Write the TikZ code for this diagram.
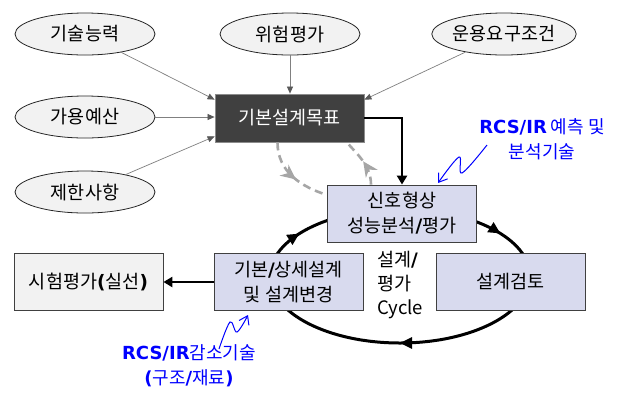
\documentclass[tikz,border=0pt]{standalone}
\usepackage{fontspec}
\setmainfont{Noto Sans CJK KR}
\newfontfamily\latb{DejaVu Sans}
\usetikzlibrary{arrows.meta,shapes.geometric,decorations.markings,calc}
\definecolor{ovalfill}{RGB}{242,242,242}
\definecolor{lav}{RGB}{216,218,238}
\definecolor{darkfill}{RGB}{64,64,64}
\definecolor{dashgray}{RGB}{166,166,166}
\definecolor{annblue}{RGB}{0,0,255}
\newcommand\kfont{\fontsize{18.5}{25}\selectfont}
\newcommand\bsl{{\latb\bfseries /}}
\newcommand\bop{{\latb\bfseries (}}
\newcommand\bcp{{\latb\bfseries )}}
\begin{document}
\begin{tikzpicture}[x=1pt,y=-1pt,
  oval/.style={ellipse, draw=black!85, line width=0.8pt, fill=ovalfill, minimum width=140pt, minimum height=42pt, inner sep=0pt, font=\kfont},
  lbox/.style={rectangle, draw=black!75, line width=0.8pt, fill=lav, minimum width=149pt, minimum height=57pt, inner sep=0pt, align=center, font=\kfont},
  thinarrow/.style={draw=black!50, line width=0.7pt, -{Triangle[length=7pt,width=6pt,fill=black!65,color=black!65]}},
  thickarrow/.style={draw=black, line width=2.5pt, -{Triangle[length=9pt,width=10pt]}},
  dasharrow/.style={draw=dashgray, line width=2.6pt, dash pattern=on 8pt off 5pt,
     decoration={markings, mark=at position #1 with {\arrow{Stealth[length=15pt,width=14pt,fill=dashgray,color=dashgray]}}}, postaction={decorate}},
  wavy/.style={draw=annblue, line width=1pt, -{Straight Barb[length=8pt,width=11pt]}},
  cyc/.style={draw=black, line width=3pt,
     decoration={markings,
       mark=at position 0.25 with {\arrow{Triangle[length=12pt,width=11pt]}},
       mark=at position 0.585 with {\arrow{Triangle[length=12pt,width=11pt]}},
       mark=at position 0.915 with {\arrow{Triangle[length=12pt,width=11pt]}}},
     postaction={decorate}}
]
\useasboundingbox (0,0) rectangle (621,392);
\fill[white] (0,0) rectangle (621,392);

% cycle ellipse (drawn first, boxes cover it)
\draw[cyc] (530,276) arc[start angle=0, end angle=-360, x radius=130pt, y radius=67pt];

% ovals
\node[oval] (e1) at (85,34) {기술능력};
\node[oval] (e2) at (290,34) {위험평가};
\node[oval] (e3) at (504,34) {운용요구조건};
\node[oval] (e4) at (85,117) {가용예산};
\node[oval] (e5) at (85,192) {제한사항};

% boxes
\node[rectangle, draw=black!45, line width=0.8pt, fill=darkfill, minimum width=149pt, minimum height=48pt, inner sep=0pt, text=white, font=\kfont] (dark) at (289.5,118) {기본설계목표};
\node[lbox] (sig) at (402,213.5) {신호형상\\성능분석\bsl 평가};
\node[lbox] (basic) at (288.5,282) {기본\bsl 상세설계\\및 설계변경};
\node[lbox] (review) at (510.5,282) {설계검토};
\node[lbox, fill=ovalfill] (test) at (88.5,282) {시험평가\bop 실선\bcp};

% cycle label
\node[anchor=west, align=left, inner sep=0pt, font=\fontsize{18.5}{24}\selectfont] (cyclbl) at (377,285) {설계\bsl\\평가\\Cycle};

% thin arrows into the goal box
\coordinate (d1) at ([yshift=-6pt]dark.north west);
\coordinate (d3) at ([yshift=-6pt]dark.north east);
\coordinate (d5) at ([yshift=6pt]dark.south west);
\draw[thinarrow] (e1) -- (d1);
\draw[thinarrow] (e2) -- (e2 |- dark.north);
\draw[thinarrow] (e3) -- (d3);
\draw[thinarrow] (e4.east) -- (e4 -| dark.west);
\draw[thinarrow] (e5) -- (d5);

% thick arrows
\draw[thickarrow] (dark.east) -| (sig.north);
\draw[thickarrow] (basic.west) -- (test.east);

% dashed feedback arrows
\coordinate (g1) at ([xshift=-12pt]dark.south);
\coordinate (s1) at ([yshift=18.5pt]sig.west);
\coordinate (s2) at ([xshift=-31pt]sig.north);
\coordinate (g2) at ([xshift=57.5pt]dark.south);
\draw[dasharrow=0.55] (g1) .. controls +(0,30) and +(-25,-8) .. (s1);
\draw[dasharrow=0.5] (s2) .. controls +(0,-20) and +(8,10) .. (g2);

% annotations
\node[align=center, text=annblue, inner sep=0pt, font=\fontsize{18}{25}\selectfont] (ann1) at (542,139.5) {{\latb\bfseries RCS/IR} 예측 및\\분석기술};
\node[align=center, text=annblue, inner sep=0pt, font=\fontsize{18}{25}\selectfont] (ann2) at (189,365.5) {{\latb\bfseries RCS/IR}감소기술\\\bop 구조\bsl 재료\bcp};

\coordinate (w1a) at (487,145);
\coordinate (w1b) at (462,173);
\coordinate (w1c) at (459,157);
\coordinate (w1d) at (438,183);
\draw[wavy] plot[smooth, tension=0.6] coordinates {(w1a) (w1b) (w1c) (w1d)};
\coordinate (w2a) at (219,349);
\coordinate (w2b) at (230,322);
\coordinate (w2c) at (237,332);
\coordinate (w2d) at (248,315);
\draw[wavy] plot[smooth, tension=0.6] coordinates {(w2a) (w2b) (w2c) (w2d)};
\end{tikzpicture}
\end{document}
